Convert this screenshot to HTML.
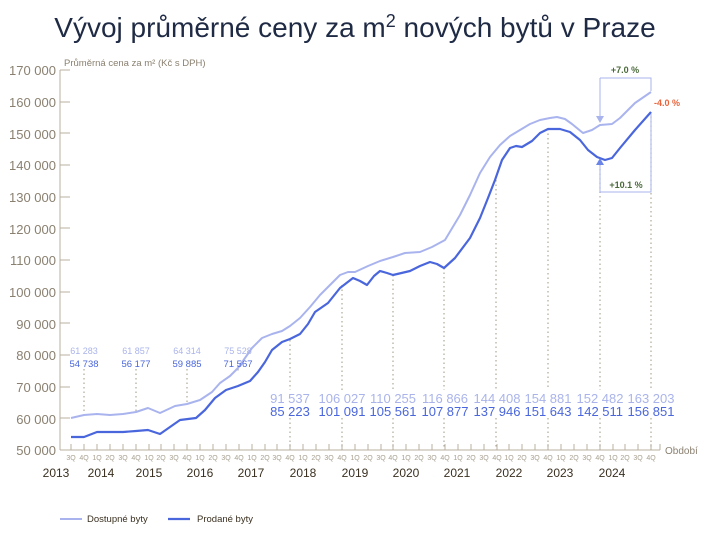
<!DOCTYPE html>
<html><head><meta charset="utf-8"><style>
body{margin:0;background:#fff;width:710px;height:537px;overflow:hidden}
svg{display:block;font-family:"Liberation Sans",sans-serif}
</style></head><body>
<svg width="710" height="537" viewBox="0 0 710 537">
<text x="355" y="37" text-anchor="middle" font-size="28" fill="#1f2a44">Vývoj průměrné ceny za m<tspan dy="-10" font-size="18">2</tspan><tspan dy="10"> nových bytů v Praze</tspan></text>
<text x="64" y="66" font-size="9.5" fill="#8a8070">Průměrná cena za m² (Kč s DPH)</text>
<g font-size="13" fill="#8a8070" text-anchor="end">
<text x="56" y="75">170 000</text><text x="56" y="107">160 000</text><text x="56" y="139">150 000</text><text x="56" y="170">140 000</text><text x="56" y="202">130 000</text><text x="56" y="234">120 000</text><text x="56" y="265">110 000</text><text x="56" y="297">100 000</text><text x="56" y="329">90 000</text><text x="56" y="360">80 000</text><text x="56" y="392">70 000</text><text x="56" y="424">60 000</text><text x="56" y="455">50 000</text>
</g>
<g stroke="#b8b0a0" stroke-width="1">
<line x1="60" y1="70" x2="60" y2="450"/><line x1="60" y1="450" x2="660" y2="450"/>
<path d="M60 70h10M60 102h10M60 133h10M60 165h10M60 197h10M60 228h10M60 260h10M60 292h10M60 323h10M60 355h10M60 387h10M60 418h10"/>
<path d="M71 450v-6M84 450v-6M97 450v-6M110 450v-6M123 450v-6M136 450v-6M149 450v-6M161 450v-6M174 450v-6M187 450v-6M200 450v-6M213 450v-6M226 450v-6M239 450v-6M252 450v-6M265 450v-6M277 450v-6M290 450v-6M303 450v-6M316 450v-6M329 450v-6M342 450v-6M355 450v-6M368 450v-6M381 450v-6M393 450v-6M406 450v-6M419 450v-6M432 450v-6M445 450v-6M458 450v-6M471 450v-6M484 450v-6M497 450v-6M509 450v-6M522 450v-6M535 450v-6M548 450v-6M561 450v-6M574 450v-6M587 450v-6M600 450v-6M613 450v-6M625 450v-6M638 450v-6M651 450v-6M660 450v-6"/>
</g>
<text x="665" y="454" font-size="10" fill="#8a8070">Období</text>
<g font-size="7" fill="#a8a090" text-anchor="middle">
<text x="71" y="460">3Q</text><text x="84" y="460">4Q</text><text x="97" y="460">1Q</text><text x="110" y="460">2Q</text><text x="123" y="460">3Q</text><text x="136" y="460">4Q</text><text x="149" y="460">1Q</text><text x="161" y="460">2Q</text><text x="174" y="460">3Q</text><text x="187" y="460">4Q</text><text x="200" y="460">1Q</text><text x="213" y="460">2Q</text><text x="226" y="460">3Q</text><text x="239" y="460">4Q</text><text x="252" y="460">1Q</text><text x="265" y="460">2Q</text><text x="277" y="460">3Q</text><text x="290" y="460">4Q</text><text x="303" y="460">1Q</text><text x="316" y="460">2Q</text><text x="329" y="460">3Q</text><text x="342" y="460">4Q</text><text x="355" y="460">1Q</text><text x="368" y="460">2Q</text><text x="381" y="460">3Q</text><text x="393" y="460">4Q</text><text x="406" y="460">1Q</text><text x="419" y="460">2Q</text><text x="432" y="460">3Q</text><text x="445" y="460">4Q</text><text x="458" y="460">1Q</text><text x="471" y="460">2Q</text><text x="484" y="460">3Q</text><text x="497" y="460">4Q</text><text x="509" y="460">1Q</text><text x="522" y="460">2Q</text><text x="535" y="460">3Q</text><text x="548" y="460">4Q</text><text x="561" y="460">1Q</text><text x="574" y="460">2Q</text><text x="587" y="460">3Q</text><text x="600" y="460">4Q</text><text x="613" y="460">1Q</text><text x="625" y="460">2Q</text><text x="638" y="460">3Q</text><text x="651" y="460">4Q</text>
</g>
<g font-size="12" fill="#3a3020" text-anchor="middle">
<text x="56" y="477">2013</text><text x="101" y="477">2014</text><text x="149" y="477">2015</text><text x="200" y="477">2016</text><text x="251" y="477">2017</text><text x="303" y="477">2018</text><text x="355" y="477">2019</text><text x="406" y="477">2020</text><text x="457" y="477">2021</text><text x="509" y="477">2022</text><text x="560" y="477">2023</text><text x="612" y="477">2024</text>
</g>
<g stroke="#b0a898" stroke-width="1.2" stroke-dasharray="1.5 3">
<path d="M84 369V413M136 369V412M187 369V404M238 369V372"/>
<path d="M290 340V390M342 285V390M393 275V390M444 268V390M496 180V390M548 129V390M600 160V390M651 112V390"/>
<path d="M290 418V450M342 418V450M393 418V450M444 418V450M496 418V450M548 418V450M600 418V450M651 418V450"/>
</g>
<polyline fill="none" stroke="#a9b4ee" stroke-width="2" stroke-linejoin="round" points="71,418 84,415 97,414 110,415 123,414 136,412 148,408 160,413 175,406 187,404 200,400 212,392 220,383 230,376 238,368 245,358 252,348 262,338 272,334 282,331 290,326 300,318 310,307 320,295 330,285 340,275 348,272 355,272 368,266 380,261 393,257 405,253 420,252 432,247 445,240 460,215 470,195 480,173 490,157 500,145 510,136 520,130 530,124 540,120 550,118 557,117 565,119 572,124 583,133 592,130 600,125 612,124 620,118 635,103 651,92"/>
<polyline fill="none" stroke="#4a66dc" stroke-width="2.2" stroke-linejoin="round" points="71,437 84,437 97,432 110,432 123,432 136,431 148,430 160,434 170,427 180,420 196,418 205,410 215,398 226,390 238,386 250,381 258,372 265,362 272,350 282,342 290,339 300,334 308,324 315,312 328,303 340,288 353,278 360,281 367,285 374,276 380,271 387,273 393,275 410,271 420,266 430,262 437,264 444,268 455,258 470,238 480,218 488,198 495,180 502,160 510,148 516,146 522,147 532,141 540,133 548,129 560,129 570,132 580,140 588,150 597,157 605,160 612,158 620,148 635,130 651,112"/>
<g stroke="#a9b4ee" stroke-width="1" fill="none">
<path d="M600 78H651V91M600 78V116"/>
<path d="M600 192H651V114M600 192V163"/>
</g>
<path d="M596 116L604 116L600 123Z" fill="#a9b4ee"/>
<path d="M596 165L604 165L600 158Z" fill="#6a84e8"/>
<text x="625" y="73" text-anchor="middle" font-size="9" font-weight="bold" fill="#4a6a3a">+7.0 %</text>
<text x="626" y="188" text-anchor="middle" font-size="9" font-weight="bold" fill="#4a6a3a">+10.1 %</text>
<text x="654" y="106" font-size="9" font-weight="bold" fill="#e8643c">-4.0 %</text>
<g text-anchor="middle">
<g font-size="9" fill="#aab4ea"><text x="84" y="354">61 283</text><text x="136" y="354">61 857</text><text x="187" y="354">64 314</text><text x="238" y="354">75 528</text></g>
<g font-size="9.5" fill="#4a66dc"><text x="84" y="367">54 738</text><text x="136" y="367">56 177</text><text x="187" y="367">59 885</text><text x="238" y="367">71 567</text></g>
<g font-size="13" fill="#aab4ea"><text x="290" y="403">91 537</text><text x="342" y="403">106 027</text><text x="393" y="403">110 255</text><text x="445" y="403">116 866</text><text x="497" y="403">144 408</text><text x="548" y="403">154 881</text><text x="600" y="403">152 482</text><text x="651" y="403">163 203</text></g>
<g font-size="13" fill="#4a66dc"><text x="290" y="416">85 223</text><text x="342" y="416">101 091</text><text x="393" y="416">105 561</text><text x="445" y="416">107 877</text><text x="497" y="416">137 946</text><text x="548" y="416">151 643</text><text x="600" y="416">142 511</text><text x="651" y="416">156 851</text></g>
</g>
<line x1="60" y1="519" x2="82" y2="519" stroke="#a9b4ee" stroke-width="2"/>
<text x="87" y="522" font-size="9.5" fill="#3a3020">Dostupné byty</text>
<line x1="168" y1="519" x2="190" y2="519" stroke="#4a66dc" stroke-width="2.2"/>
<text x="197" y="522" font-size="9.5" fill="#3a3020">Prodané byty</text>
</svg>
</body></html>
